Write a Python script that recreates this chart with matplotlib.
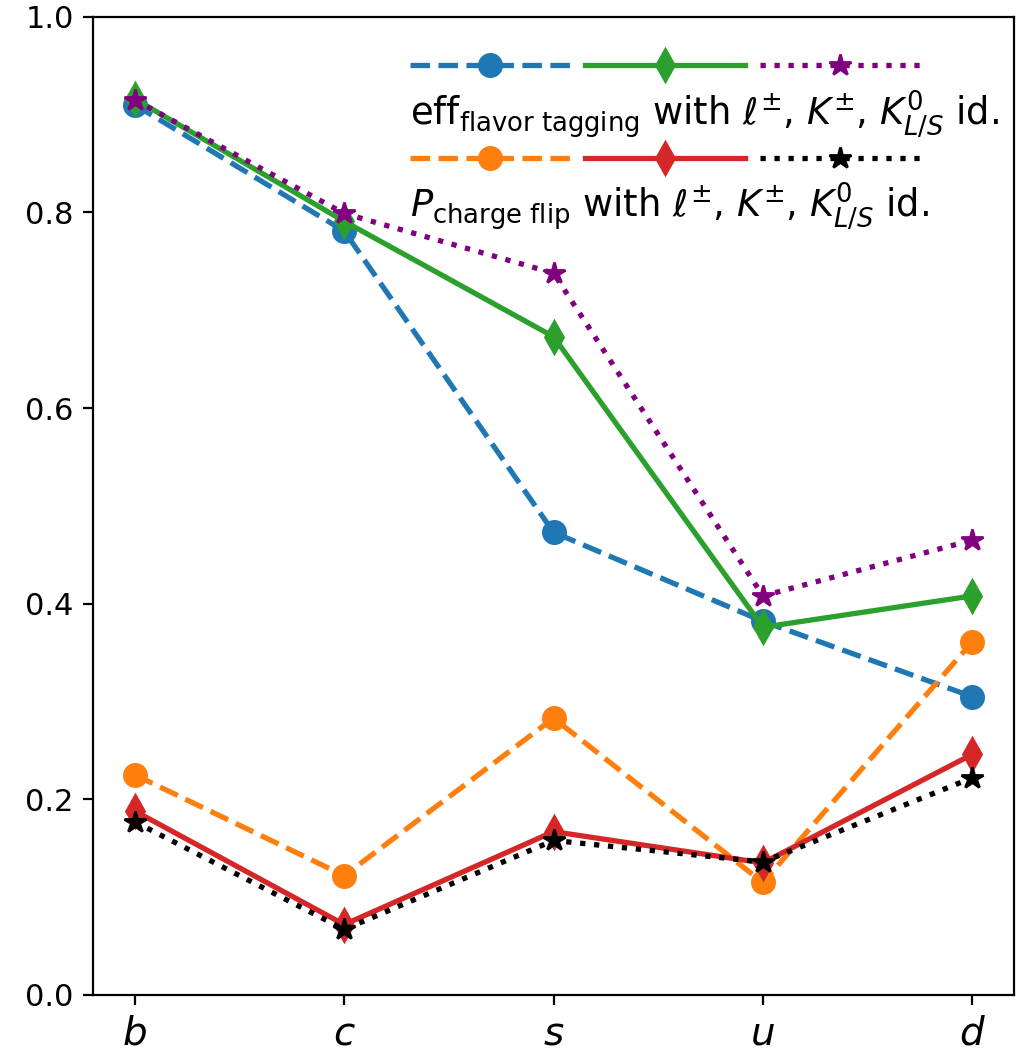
import numpy as np
import matplotlib
matplotlib.use("Agg")
import matplotlib.pyplot as plt
from matplotlib.legend_handler import HandlerTuple

# quark flavours on the x axis
flavors = [r"$b$", r"$c$", r"$s$", r"$u$", r"$d$"]

# flavour tagging efficiency
eff_lep = [0.910, 0.781, 0.473, 0.382, 0.305]
eff_lep_kch = [0.916, 0.791, 0.673, 0.376, 0.408]
eff_lep_kch_k0 = [0.915, 0.799, 0.738, 0.408, 0.465]

# charge flip probability
pflip_lep = [0.225, 0.122, 0.283, 0.115, 0.361]
pflip_lep_kch = [0.188, 0.072, 0.167, 0.135, 0.246]
pflip_lep_kch_k0 = [0.177, 0.067, 0.158, 0.136, 0.222]

x = np.arange(len(flavors))
lw = 1.9
ms = 8

fig = plt.figure(figsize=(5.14, 5.27), dpi=200)
ax = fig.add_axes([0.0905, 0.056, 0.896, 0.928])

l1, = ax.plot(x, eff_lep, ls="--", marker="o", color="tab:blue", lw=lw, ms=ms)
l4, = ax.plot(x, pflip_lep, ls="--", marker="o", color="tab:orange", lw=lw, ms=ms)
l2, = ax.plot(x, eff_lep_kch, ls="-", marker="d", color="tab:green", lw=lw, ms=ms)
l5, = ax.plot(x, pflip_lep_kch, ls="-", marker="d", color="tab:red", lw=lw, ms=ms)
l3, = ax.plot(x, eff_lep_kch_k0, ls=":", marker="*", color="purple", lw=lw, ms=ms)
l6, = ax.plot(x, pflip_lep_kch_k0, ls=":", marker="*", color="black", lw=lw, ms=ms)

ax.set_ylim(0, 1.0)
ax.set_xlim(-0.2, 4.2)
ax.set_xticks(x)
ax.set_xticklabels(flavors)
ax.tick_params(axis="x", labelsize=14)
ax.tick_params(axis="y", labelsize=11)

# handles on one row, description on the row below
blank, = ax.plot([], [], color="none")
hl = 13.8
ax.legend(
    [(l1, l2, l3), blank, (l4, l5, l6), blank],
    [" ",
     r"$\mathrm{eff}_{\mathrm{flavor\ tagging}}$ with $\ell^{\pm}$, $K^{\pm}$, $K^{0}_{L/S}$ id.",
     " ",
     r"$P_{\mathrm{charge\ flip}}$ with $\ell^{\pm}$, $K^{\pm}$, $K^{0}_{L/S}$ id."],
    handler_map={tuple: HandlerTuple(ndivide=None)},
    handlelength=hl, handletextpad=-hl, frameon=False, fontsize=13.3,
    loc="upper left", bbox_to_anchor=(0.328, 0.982), borderaxespad=0,
    labelspacing=0.06,
)

fig.savefig("out.png", dpi=200)
